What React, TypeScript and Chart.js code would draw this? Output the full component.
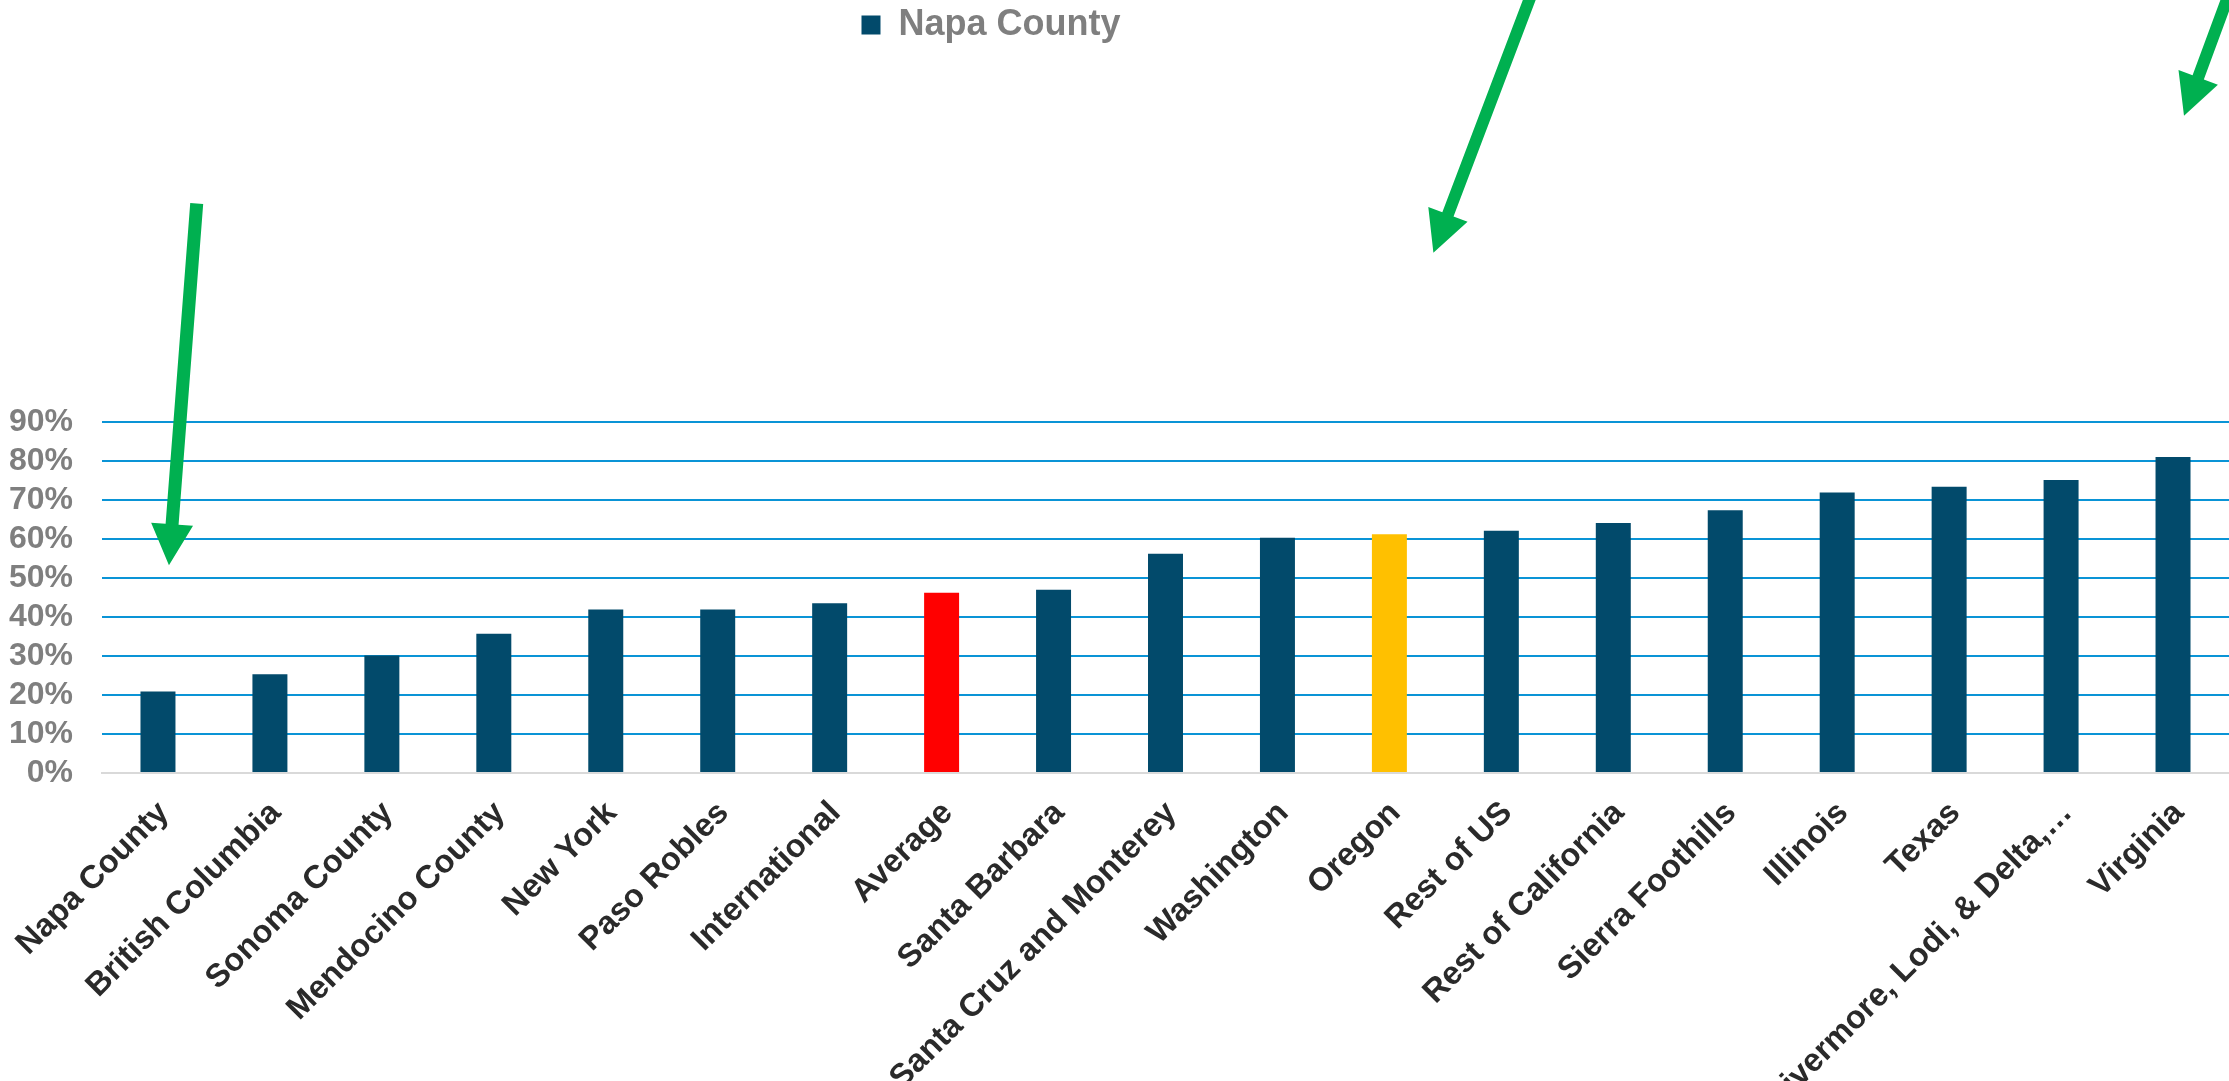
import React, { useEffect, useRef } from 'react';
import { Chart, registerables } from 'chart.js';

Chart.register(...registerables);

// ---- data ----
const categories: string[] = [
  'Napa County',
  'British Columbia',
  'Sonoma County',
  'Mendocino County',
  'New York',
  'Paso Robles',
  'International',
  'Average',
  'Santa Barbara',
  'Santa Cruz and Monterey',
  'Washington',
  'Oregon',
  'Rest of US',
  'Rest of California',
  'Sierra Foothills',
  'Illinois',
  'Texas',
  'Livermore, Lodi, & Delta,…',
  'Virginia',
];
const values: number[] = [
  20.9, 25.3, 30.1, 35.7, 41.9, 41.9, 43.5, 46.2, 47.0, 56.2, 60.3, 61.2, 62.1, 64.1, 67.4, 71.9, 73.4, 75.1, 81.0,
];
const seriesName = 'Napa County';
const yMin = 0;
const yMax = 90;
const yStep = 10;
const redCategory = 'Average';
const yellowCategory = 'Oregon';

// annotation arrows, in (category index, value %) space
const arrowFrom: [number, number][] = [
  [0.346, 146.0],
  [12.318, 203.4],
  [18.547, 203.4],
];
const arrowTo: [number, number][] = [
  [0.098, 53.3],
  [11.393, 133.4],
  [18.098, 168.5],
];

// ---- styles ----
const NAVY = '#024a6b';
const RED = '#ff0000';
const YELLOW = '#ffc000';
const GREEN = '#00b050';
const GRID_BLUE = '#0a94d6';
const BASE_GRAY = '#d9d9d9';
const FONT = "'Liberation Sans', Arial, Helvetica, sans-serif";
const W = 2229;
const H = 1081;
const Y_AXIS_WIDTH = 102;
const X_AXIS_HEIGHT = 308;
const LEGEND_CENTER_X = 991;
const LEGEND_TOP = 0;
const SHAFT_W = [13, 12, 12];
const HEAD_LEN = 41;
const HEAD_W = 42;

const legendShift = {
  id: 'legendShift',
  afterLayout(chart: any) {
    const lg = chart.legend;
    if (!lg) return;
    const d = LEGEND_CENTER_X - (lg.left + lg.right) / 2;
    lg.left += d;
    lg.right += d;
    const dy = LEGEND_TOP - lg.top;
    lg.top += dy;
    lg.bottom += dy;
  },
};

const arrowPlugin = {
  id: 'arrows',
  afterDraw(chart: any) {
    const { ctx } = chart;
    const xs = chart.scales.x;
    const ys = chart.scales.y;
    ctx.save();
    ctx.fillStyle = GREEN;
    arrowFrom.forEach((f, i) => {
      const t = arrowTo[i];
      const sx = xs.getPixelForValue(f[0]);
      const sy = ys.getPixelForValue(f[1]);
      const tx = xs.getPixelForValue(t[0]);
      const ty = ys.getPixelForValue(t[1]);
      const dx = tx - sx;
      const dy = ty - sy;
      const len = Math.hypot(dx, dy);
      const ux = dx / len;
      const uy = dy / len;
      const nx = -uy;
      const ny = ux;
      const bx = tx - ux * HEAD_LEN;
      const by = ty - uy * HEAD_LEN;
      const hw = SHAFT_W[i] / 2;
      const hh = HEAD_W / 2;
      ctx.beginPath();
      ctx.moveTo(sx + nx * hw, sy + ny * hw);
      ctx.lineTo(bx + nx * hw, by + ny * hw);
      ctx.lineTo(bx + nx * hh, by + ny * hh);
      ctx.lineTo(tx, ty);
      ctx.lineTo(bx - nx * hh, by - ny * hh);
      ctx.lineTo(bx - nx * hw, by - ny * hw);
      ctx.lineTo(sx - nx * hw, sy - ny * hw);
      ctx.closePath();
      ctx.fill();
    });
    ctx.restore();
  },
};

export default function App() {
  const ref = useRef<HTMLCanvasElement | null>(null);

  useEffect(() => {
    if (!ref.current) return;
    const colors = categories.map((c) => (c === redCategory ? RED : c === yellowCategory ? YELLOW : NAVY));
    const chart = new Chart(ref.current, {
      type: 'bar',
      data: {
        labels: categories,
        datasets: [
          {
            label: seriesName,
            data: values,
            backgroundColor: colors,
            borderWidth: 0,
            barPercentage: 0.3125,
            categoryPercentage: 1.0,
          },
        ],
      },
      options: {
        animation: false,
        responsive: true,
        maintainAspectRatio: false,
        devicePixelRatio: 1,
        layout: { padding: { top: 369, left: 0, right: 0, bottom: 0 } },
        plugins: {
          tooltip: { enabled: false },
          legend: {
            display: true,
            position: 'top',
            align: 'center',
            labels: {
              boxWidth: 19,
              boxHeight: 19,
              padding: 7,
              color: '#7f7f7f',
              font: { family: FONT, size: 36, weight: 'bold' },
              generateLabels: () => [
                {
                  text: seriesName,
                  fillStyle: NAVY,
                  strokeStyle: NAVY,
                  lineWidth: 0,
                  hidden: false,
                  datasetIndex: 0,
                  fontColor: '#7f7f7f',
                },
              ],
            },
          },
        },
        scales: {
          x: {
            grid: { display: false, drawTicks: false },
            border: { display: true, color: BASE_GRAY, width: 2 },
            ticks: {
              autoSkip: false,
              maxRotation: 45,
              minRotation: 45,
              padding: 21,
              labelOffset: 6,
              color: '#2a2a2a',
              font: { family: FONT, size: 32.5, weight: 'bold' },
            },
            afterFit: (s: any) => {
              s.height = X_AXIS_HEIGHT;
              s.paddingLeft = 0;
              s.paddingRight = 0;
            },
          },
          y: {
            min: yMin,
            max: yMax,
            grid: {
              drawTicks: false,
              lineWidth: 2,
              color: (c: any) => (c.tick && c.tick.value === 0 ? BASE_GRAY : GRID_BLUE),
            },
            border: { display: false },
            ticks: {
              stepSize: yStep,
              autoSkip: false,
              padding: 29,
              color: '#7f7f7f',
              font: { family: FONT, size: 32, weight: 'bold' },
              callback: (v: any) => `${v}%`,
            },
            afterFit: (s: any) => {
              s.width = Y_AXIS_WIDTH;
            },
          },
        },
      },
      plugins: [legendShift, arrowPlugin],
    });
    return () => chart.destroy();
  }, []);

  return (
    <div style={{ position: 'absolute', left: 0, top: 0, width: W, height: H, background: '#ffffff' }}>
      <canvas ref={ref} />
    </div>
  );
}
